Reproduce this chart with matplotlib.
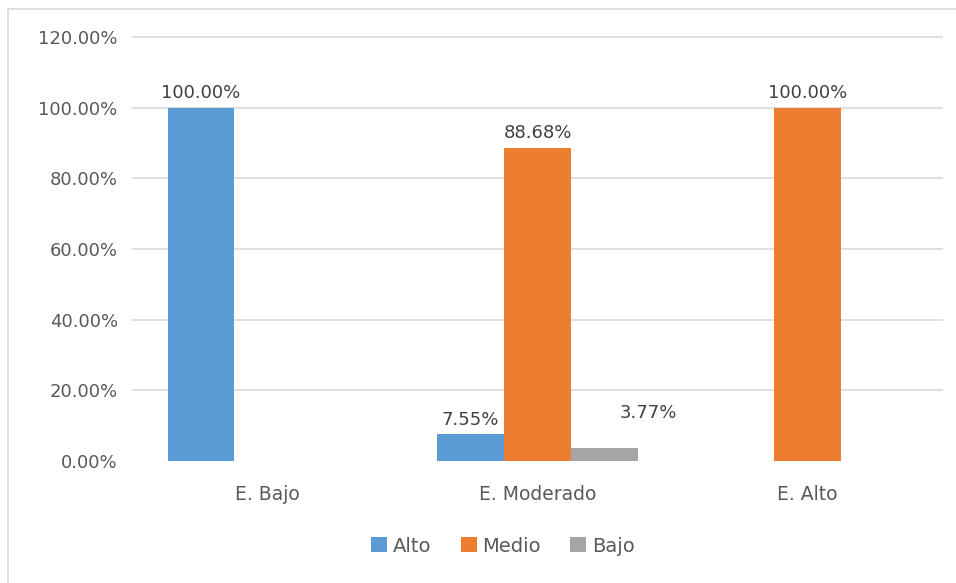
import matplotlib.pyplot as plt
from matplotlib.patches import Rectangle

categorias = ["E. Bajo", "E. Moderado", "E. Alto"]
alto = [100.00, 7.55, 0]
medio = [0, 88.68, 100.00]
bajo = [0, 3.77, 0]
series = ["Alto", "Medio", "Bajo"]
colores = ["#5B9BD5", "#ED7D31", "#A5A5A5"]
yticks = [0, 20, 40, 60, 80, 100, 120]

plt.rcParams['font.family'] = 'DejaVu Sans'
texto = '#595959'

fig = plt.figure(figsize=(9.56, 5.83), dpi=100)
ax = fig.add_axes([133/956, 1 - 461/583, 809/956, 424/583])

# marco del grafico (solo se ven los bordes izquierdo y superior)
fig.patches.append(Rectangle((8/956, -0.1), 1.5, 1 - 9/583 + 0.1,
                             transform=fig.transFigure, fill=False,
                             edgecolor='#D9D9D9', linewidth=1.2))

# lineas de division horizontales, sin la del cero
for t in yticks[1:]:
    ax.axhline(t, color='#D9D9D9', linewidth=1.2, zorder=0, clip_on=False)

w = 0.248
x = range(len(categorias))
datos = [alto, medio, bajo]
for i, (vals, nombre, c) in enumerate(zip(datos, series, colores)):
    pos = [k + (i - 1) * w for k in x]
    ax.bar(pos, vals, width=w, color=c, label=nombre, zorder=3)
    for p, v in zip(pos, vals):
        if v == 0:
            continue
        dx, dy = 0, 7
        if nombre == "Bajo":
            dx, dy = 32, 21.5
        ax.annotate(f"{v:.2f}%", (p, v), xytext=(dx, dy),
                    textcoords='offset points', ha='center', va='baseline',
                    fontsize=13, color='#404040')

ax.set_xlim(-0.5, 2.5)
ax.set_ylim(0, 120)
ax.set_yticks(yticks)
ax.set_yticklabels([f"{t:.2f}%" for t in yticks])
ax.set_xticks(list(x))
ax.set_xticklabels(categorias)
ax.tick_params(axis='y', length=0, pad=11, labelsize=13, labelcolor=texto)
ax.tick_params(axis='x', length=0, pad=17, labelsize=13.5, labelcolor=texto)
for s in ax.spines.values():
    s.set_visible(False)

fig.legend(loc='center', bbox_to_anchor=(503/956, 1 - 546/583), ncol=3,
           frameon=False, fontsize=14, labelcolor=texto,
           handlelength=0.82, handleheight=0.82, handletextpad=0.3,
           columnspacing=1.5)

fig.savefig("out.png", dpi=100)
